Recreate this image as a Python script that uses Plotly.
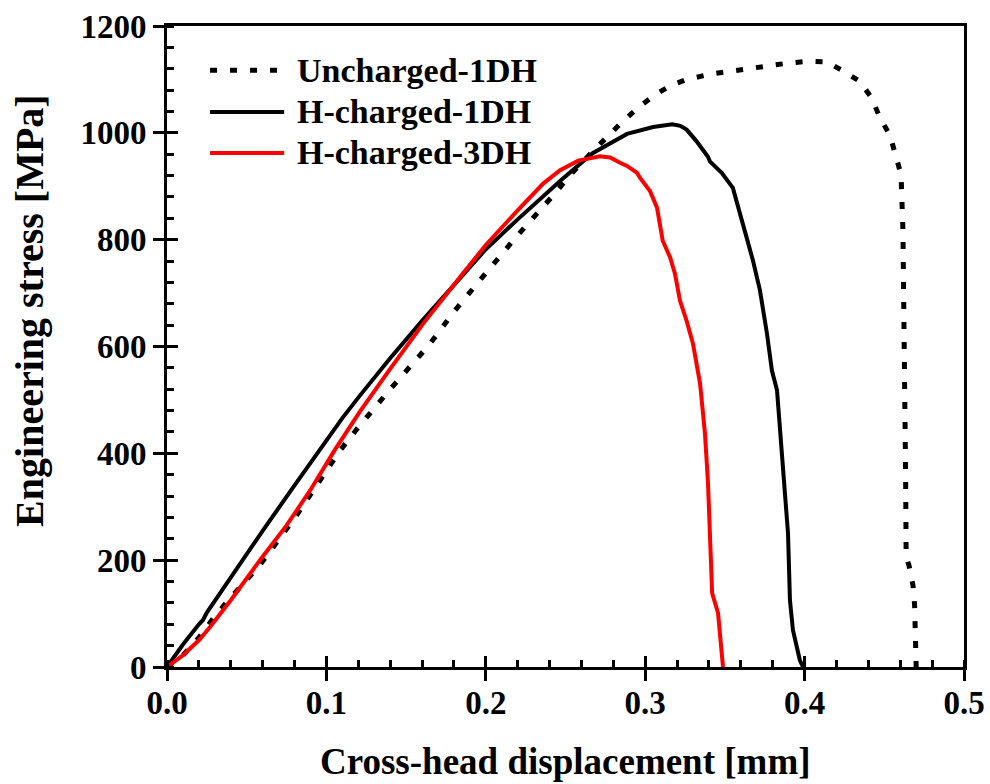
import plotly.graph_objects as go

# ---------------- data ----------------
unch_x = [0, 0.010, 0.020, 0.030, 0.040, 0.052, 0.058, 0.070, 0.0815, 0.095, 0.1085, 0.119,
          0.140, 0.165, 0.180, 0.196, 0.2196, 0.2447, 0.251, 0.267, 0.285, 0.2967, 0.306,
          0.3156, 0.325, 0.3407, 0.3657, 0.3908, 0.403, 0.414, 0.424, 0.4348, 0.4423,
          0.447, 0.4536, 0.4567, 0.4605, 0.4617, 0.4624, 0.463, 0.4634, 0.4637, 0.4655,
          0.468, 0.469, 0.4695, 0.470]
unch_y = [0, 22, 55, 95, 130, 168, 190, 238, 285, 345, 405, 445,
          520, 605, 665, 723, 807, 891, 915, 965, 1019, 1050, 1071,
          1088, 1099, 1110, 1121, 1131, 1134, 1133, 1116, 1096, 1064,
          1030, 995, 965, 922, 817, 673, 486, 350, 206, 190,
          153, 116, 60, 0]

h1_x = [0, 0.010, 0.020, 0.0226, 0.025, 0.040, 0.060, 0.080, 0.100, 0.110, 0.121, 0.140,
        0.160, 0.182, 0.200, 0.220, 0.2466, 0.267, 0.2886, 0.305, 0.317, 0.322, 0.326,
        0.332, 0.3394, 0.3407, 0.348, 0.355, 0.358, 0.3626, 0.3676, 0.372, 0.3764,
        0.3795, 0.3827, 0.3852, 0.3877, 0.3896, 0.3908, 0.3927, 0.397, 0.399]
h1_y = [0, 42, 80, 88, 102, 168, 255, 340, 424, 466, 508, 578,
        648, 723, 782, 838, 910, 962, 998, 1011, 1016, 1013, 1006,
        985, 955, 946, 925, 897, 867, 815, 761, 705, 624,
        555, 518, 419, 344, 250, 125, 69, 13, 0]

h3_x = [0, 0.010, 0.020, 0.027, 0.040, 0.0583, 0.075, 0.0897, 0.105, 0.121, 0.140, 0.160,
        0.182, 0.200, 0.220, 0.236, 0.2466, 0.258, 0.2716, 0.278, 0.2842, 0.2886, 0.2949,
        0.2967, 0.303, 0.3074, 0.311, 0.3156, 0.3187, 0.3218, 0.326, 0.330, 0.3344,
        0.3375, 0.3394, 0.341, 0.342, 0.3457, 0.3488]
h3_y = [0, 22, 50, 75, 125, 200, 265, 330, 405, 478, 558, 640,
        723, 790, 855, 905, 930, 948, 956, 954, 944, 938, 925,
        916, 891, 860, 798, 767, 736, 686, 648, 605, 531,
        437, 344, 240, 138, 101, 0]

series_names = ["Uncharged-1DH", "H-charged-1DH", "H-charged-3DH"]
series_colors = ["#000000", "#000000", "#ff0000"]
series_dash = ["7px,13px", "solid", "solid"]
series_width = [5, 4, 4]

x_ticks = [0.0, 0.1, 0.2, 0.3, 0.4, 0.5]
x_tick_text = ["0.0", "0.1", "0.2", "0.3", "0.4", "0.5"]
y_ticks = [0, 200, 400, 600, 800, 1000, 1200]

x_title = "Cross-head displacement [mm]"
y_title = "Engineering stress [MPa]"

FONT = "Liberation Serif"

fig = go.Figure()
for xs, ys, nm, col, dash, w in zip([unch_x, h1_x, h3_x], [unch_y, h1_y, h3_y],
                                   series_names, series_colors, series_dash, series_width):
    fig.add_trace(go.Scatter(x=xs, y=ys, mode="lines", name=nm,
                             line=dict(color=col, width=w, dash=dash),
                             showlegend=False))

# empty trace so the overlay axes (inner half of the crossing major ticks) are drawn
fig.add_trace(go.Scatter(x=[None], y=[None], xaxis="x2", yaxis="y2",
                         showlegend=False, hoverinfo="skip"))

tickfont = dict(family=FONT, size=33, color="black", weight="bold")

fig.update_layout(
    width=990, height=784,
    margin=dict(l=167, r=26, t=26, b=117),
    paper_bgcolor="white", plot_bgcolor="white",
    xaxis=dict(range=[0, 0.5], tickmode="array", tickvals=x_ticks, ticktext=x_tick_text,
               ticks="outside", ticklen=11, tickwidth=3, tickcolor="black",
               showline=True, linewidth=3, linecolor="black", mirror=True,
               showgrid=False, zeroline=False, tickfont=tickfont, automargin=False,
               ticklabelstandoff=-7,
               minor=dict(ticks="inside", ticklen=7, tickwidth=3, tickcolor="black",
                          tick0=0, dtick=0.02, showgrid=False)),
    yaxis=dict(range=[0, 1200], tickmode="array", tickvals=y_ticks,
               ticks="outside", ticklen=11, tickwidth=3, tickcolor="black",
               showline=True, linewidth=3, linecolor="black", mirror=True,
               showgrid=False, zeroline=False, tickfont=tickfont, automargin=False,
               minor=dict(ticks="inside", ticklen=7, tickwidth=3, tickcolor="black",
                          tick0=0, dtick=40, showgrid=False)),
    xaxis2=dict(overlaying="x", anchor="y2", side="bottom", range=[0, 0.5],
                tickmode="array", tickvals=x_ticks, ticks="inside", ticklen=11,
                tickwidth=3, tickcolor="black", showticklabels=False, automargin=False,
                showline=False, showgrid=False, zeroline=False),
    yaxis2=dict(overlaying="y", anchor="x2", side="left", range=[0, 1200],
                tickmode="array", tickvals=y_ticks, ticks="inside", ticklen=11,
                tickwidth=3, tickcolor="black", showticklabels=False, automargin=False,
                showline=False, showgrid=False, zeroline=False),
    showlegend=False,
)

# axis titles
fig.add_annotation(xref="paper", yref="paper", x=0.5, y=-0.148, xanchor="center",
                   yanchor="middle", showarrow=False, text="<b>%s</b>" % x_title,
                   font=dict(family=FONT, size=37, color="black"))
fig.add_annotation(xref="paper", yref="paper", x=-0.172, y=0.557, xanchor="center",
                   yanchor="middle", showarrow=False, textangle=-90,
                   text="<b>%s</b>" % y_title,
                   font=dict(family=FONT, size=40, color="black"))

# ---- legend drawn as shapes + text (long sample lines like the original) ----
legend_rows_y = [0.931, 0.866, 0.802]
for yy, nm, col, dash, w in zip(legend_rows_y, series_names, series_colors, series_dash, series_width):
    fig.add_shape(type="line", xref="paper", yref="paper", x0=0.054, x1=0.147, y0=yy, y1=yy,
                  line=dict(color=col, width=w, dash=dash))
    fig.add_annotation(xref="paper", yref="paper", x=0.160, y=yy, xanchor="left",
                       yanchor="middle", showarrow=False, text="<b>%s</b>" % nm,
                       font=dict(family=FONT, size=34, color="black"))

fig.write_html("out.html", config={"displayModeBar": False},
               post_script="document.body.style.margin='0';document.body.style.padding='0';"
                           "document.body.style.overflow='hidden';")
